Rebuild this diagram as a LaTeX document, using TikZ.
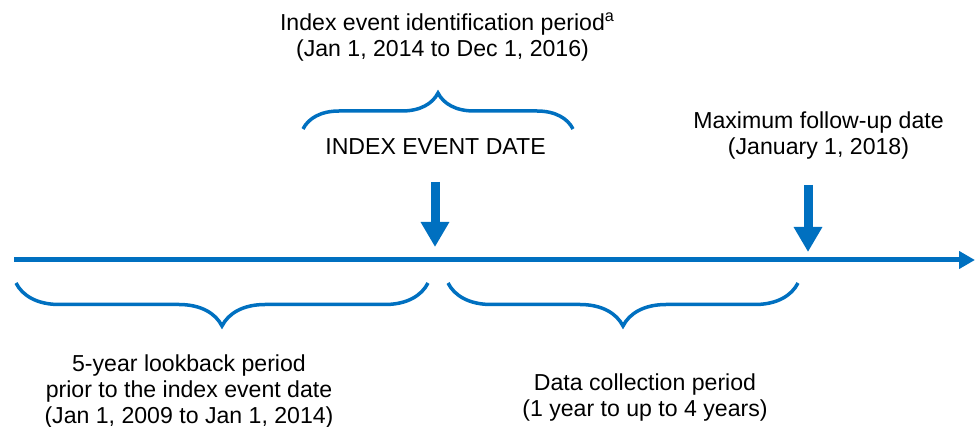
\documentclass[tikz,border=0pt]{standalone}
\usepackage{fontspec}
\setmainfont{Liberation Sans}
\usetikzlibrary{arrows.meta,decorations.pathreplacing,positioning}
\definecolor{lineblue}{RGB}{0,112,192}

\begin{document}
\begin{tikzpicture}[x=1pt,y=-1pt]
\tikzset{>={Triangle}, txt/.style={align=center, anchor=base, inner sep=0pt, font=\fontsize{23.1}{26}\selectfont},
  period/.style={draw=lineblue, line width=3.5pt, decorate, decoration={brace, amplitude=#1}},
  drop/.style={draw=lineblue, line width=9pt, -{Triangle[length=25pt,width=27pt]}}}
\useasboundingbox (0,0) rectangle (977,427);

% time line
\coordinate (tstart) at (14,260);
\coordinate (tend) at (975,260);
\draw[lineblue, line width=5pt, -{Triangle[length=16pt,width=17pt]}] (tstart) -- (tend);

% index event date
\coordinate (idxtop) at (435,182);
\coordinate (idxtip) at (435,247);
\draw[drop] (idxtop) -- (idxtip);
\coordinate (idxl) at (303,129);
\coordinate (idxr) at (573,129);
\draw[period=36pt] (idxl) -- (idxr);
\node[txt] (idxperiod) at (442.5,57) {Index event identification period\rlap{\textsuperscript{a}}\\(Jan 1, 2014 to Dec 1, 2016)};
\node[txt] (idxdate) at (435.5,155) {INDEX EVENT DATE};

% maximum follow-up
\coordinate (maxtop) at (808,185);
\coordinate (maxtip) at (808,252);
\draw[drop] (maxtop) -- (maxtip);
\node[txt] (maxdate) at (818.5,155) {Maximum follow-up date\\(January 1, 2018)};

% periods below the line
\coordinate (lbl) at (16,283);
\coordinate (lbr) at (428,283);
\draw[period=43pt] (lbr) -- (lbl);
\node[txt] (lookback) at (189,423) {5-year lookback period\\prior to the index event date\\(Jan 1, 2009 to Jan 1, 2014)};

\coordinate (dcl) at (448,283);
\coordinate (dcr) at (798,283);
\draw[period=43pt] (dcr) -- (dcl);
\node[txt] (collection) at (645,416) {Data collection period\\(1 year to up to 4 years)};
\end{tikzpicture}
\end{document}
